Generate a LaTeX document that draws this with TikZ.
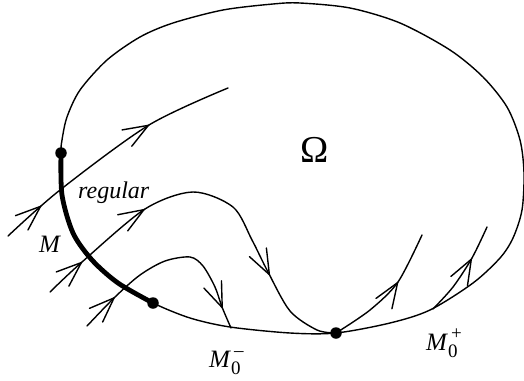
\documentclass[tikz,border=0pt]{standalone}
\usepackage{fontspec}
\setmainfont{Liberation Serif}
\usetikzlibrary{arrows.meta,decorations.markings}
\newcommand\myscriptsz{\fontsize{19}{19}\selectfont}
\newcommand\Mlabel[1]{\textit{M}\rlap{\raisebox{-7pt}{\myscriptsz 0}}\kern3pt\raisebox{11pt}{\myscriptsz #1}}
\begin{document}
\begin{tikzpicture}[x=1pt,y=-1pt,
  thinline/.style={line width=1.4pt, line cap=round, line join=round},
  thickline/.style={line width=4.8pt, line cap=round},
  dot/.style={circle, fill=black, inner sep=0pt, minimum size=11.5pt},
  lbl/.style={inner sep=0pt, font=\fontsize{25}{27}\selectfont},
  vbarb/.tip={Straight Barb[length=25pt,width=19pt,line cap=round]}]
\useasboundingbox (0,0) rectangle (524,380);
% boundary of Omega
\draw[thinline] plot[smooth cycle, tension=0.5] coordinates {(61,153) (62,140) (67,117) (80,90) (107,60) (140,37) (173,23) (223,10) (273,4) (300,3) (350,8) (400,23) (450,50) (483,77) (507,107) (520,140) (524,173) (522,210) (513,238) (500,258) (473,283) (430,310) (390,323) (336,333) (290,333) (230,327) (190,318) (153,303) (118,283) (92,260) (73,233) (62,195)};
% thick part M
\draw[thickline] plot[smooth, tension=0.5] coordinates {(61,153) (62,195) (73,233) (92,260) (118,283) (153,303)};
% flow lines
\draw[thinline, postaction={decorate}, decoration={markings,
  mark=at position 46pt with {\arrow{vbarb}},
  mark=at position 181pt with {\arrow{vbarb}}}]
  plot[smooth] coordinates {(8,236) (60,190) (149,125) (228,88)};
\draw[thinline, postaction={decorate}, decoration={markings,
  mark=at position 45pt with {\arrow{vbarb}},
  mark=at position 127pt with {\arrow{vbarb}},
  mark=at position 300pt with {\arrow{vbarb}}}]
  plot[smooth] coordinates {(50,292) (82,262) (145,209) (193,192) (233,207) (252,240) (268,272) (290,311) (317,330) (336,333)};
\draw[thinline, postaction={decorate}, decoration={markings,
  mark=at position 82pt with {\arrow{vbarb}}}]
  plot[smooth] coordinates {(336,333) (370,310) (398,282) (422,235)};
\draw[thinline, postaction={decorate}, decoration={markings,
  mark=at position 41pt with {\arrow{vbarb}},
  mark=at position 192pt with {\arrow{vbarb}}}]
  plot[smooth] coordinates {(87,326) (115,297) (140,275) (165,261) (190,257) (203,266) (215,287) (222,307) (231,328)};
\draw[thinline, postaction={decorate}, decoration={markings,
  mark=at position 65pt with {\arrow{vbarb}}}]
  plot[smooth] coordinates {(433,309) (453,287) (472,258) (487,227)};
% dots
\node[dot] (A) at (61,153) {};
\node[dot] (C) at (153,303) {};
\node[dot] (B) at (336,333) {};
% labels
\node[inner sep=0pt, anchor=base, font=\fontsize{38}{40}\selectfont] (Om) at (315,162) {Ω};
\node[lbl, anchor=base west, font=\fontsize{24}{26}\selectfont] (reg) at (78,198) {\textit{regular}};
\node[lbl, anchor=base west] (M) at (39,252) {\textit{M}};
\node[lbl, anchor=base west] (Mm) at (209,367) {\Mlabel{–}};
\node[lbl, anchor=base west] (Mp) at (426,350) {\Mlabel{+}};
\end{tikzpicture}
\end{document}
